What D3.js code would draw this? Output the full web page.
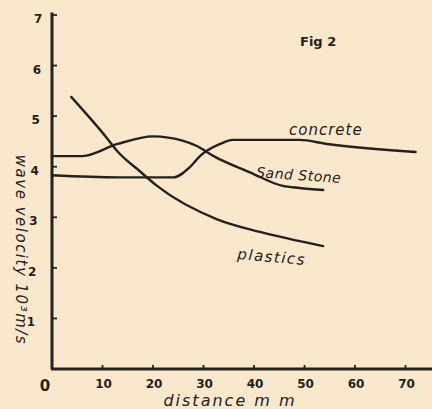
<!DOCTYPE html>
<html lang="en">
<head>
  <meta charset="UTF-8">
  <title>Fig 2</title>
  <script src="https://d3js.org/d3.v7.min.js"></script>
</head>
<style>
  body { margin: 0; background: #f9e8cc; }
  svg { display: block; }
  .hand { font-family: "DejaVu Sans", sans-serif; fill: #24211e; }
</style>
<body>
  <svg id="chart" width="432" height="409"></svg>
  <script>
    // values (distance mm, velocity 10^3 m/s)
    const concreteX = [0, 13, 24, 27.3, 29.3, 33.3, 35.8, 49, 54.5, 72];
    const concreteY = [3.83, 3.79, 3.79, 3.99, 4.21, 4.45, 4.53, 4.53, 4.45, 4.29];
    const sandX = [0, 6, 13, 20, 26, 28.7, 32, 39.2, 45.7, 49, 53.7];
    const sandY = [4.21, 4.21, 4.45, 4.6, 4.51, 4.41, 4.21, 3.89, 3.62, 3.58, 3.54];
    const plasticX = [3.8, 11, 12.9, 17.4, 20.8, 32.7, 41.2, 53.7];
    const plasticY = [5.38, 4.55, 4.31, 3.91, 3.62, 2.96, 2.71, 2.43];
    const xTicks = [10, 20, 30, 40, 50, 60, 70];
    const xTickLabels = ["10", "20", "30", "40", "50", "60", "70"];
    const yTicks = [1, 2, 3, 4, 5, 6, 7];
    const yTickLabels = ["1", "2", "3", "4", "5", "6", "7"];

    const svg = d3.select("#chart");
    const ink = "#24211e";

    const x = d3.scaleLinear().domain([0, 70]).range([52, 405.5]);
    const y = d3.scaleLinear().domain([0, 7]).range([369, 15]);

    // axes
    svg.append("line")
      .attr("x1", x(0)).attr("x2", x(0))
      .attr("y1", y(7.05)).attr("y2", y(0))
      .attr("stroke", ink).attr("stroke-width", 3);
    svg.append("line")
      .attr("x1", x(0) - 1).attr("x2", 432)
      .attr("y1", y(0)).attr("y2", y(0))
      .attr("stroke", ink).attr("stroke-width", 3);

    svg.selectAll(".ytick").data(yTicks).enter().append("line")
      .attr("x1", x(0)).attr("x2", x(0) + 5)
      .attr("y1", d => y(d)).attr("y2", d => y(d))
      .attr("stroke", ink).attr("stroke-width", 1.8);
    svg.selectAll(".xtick").data(xTicks).enter().append("line")
      .attr("x1", d => x(d)).attr("x2", d => x(d))
      .attr("y1", y(0)).attr("y2", y(0) - 4)
      .attr("stroke", ink).attr("stroke-width", 1.8);

    svg.selectAll(".ylab").data(yTicks).enter().append("text")
      .attr("class", "hand")
      .attr("x", (d, i) => 31 + i * 1.2)
      .attr("y", d => y(d) + 8)
      .attr("text-anchor", "middle")
      .attr("font-size", 12).attr("font-weight", "bold")
      .text((d, i) => yTickLabels[i]);

    svg.selectAll(".xlab").data(xTicks).enter().append("text")
      .attr("class", "hand")
      .attr("x", d => x(d) + 1)
      .attr("y", 388)
      .attr("text-anchor", "middle")
      .attr("font-size", 12).attr("font-weight", "bold")
      .text((d, i) => xTickLabels[i]);

    svg.append("text").attr("class", "hand")
      .attr("x", 45).attr("y", 391)
      .attr("text-anchor", "middle")
      .attr("font-size", 15).attr("font-weight", "bold")
      .text("0");

    svg.append("text").attr("class", "hand")
      .attr("x", 230).attr("y", 406)
      .attr("text-anchor", "middle")
      .attr("font-size", 16).attr("font-style", "italic")
      .attr("letter-spacing", 2)
      .text("distance  m m");

    svg.append("text").attr("class", "hand")
      .attr("transform", "translate(16,250) rotate(90)")
      .attr("text-anchor", "middle")
      .attr("font-size", 15).attr("font-style", "italic")
      .attr("letter-spacing", 1.5)
      .text("wave velocity 10³m/s");

    svg.append("text").attr("class", "hand")
      .attr("x", 300).attr("y", 46)
      .attr("font-size", 13).attr("font-weight", "bold")
      .text("Fig 2");

    // curves
    const line = d3.line()
      .x(d => x(d[0])).y(d => y(d[1]))
      .curve(d3.curveMonotoneX);

    const series = [
      { xs: concreteX, ys: concreteY },
      { xs: sandX, ys: sandY },
      { xs: plasticX, ys: plasticY }
    ];
    series.forEach(s => {
      svg.append("path")
        .datum(s.xs.map((v, i) => [v, s.ys[i]]))
        .attr("d", line)
        .attr("fill", "none")
        .attr("stroke", ink)
        .attr("stroke-width", 2.4)
        .attr("stroke-linecap", "round");
    });

    svg.append("text").attr("class", "hand")
      .attr("x", 289).attr("y", 135)
      .attr("font-size", 15).attr("font-style", "italic")
      .attr("letter-spacing", 1)
      .text("concrete");
    svg.append("text").attr("class", "hand")
      .attr("x", 256).attr("y", 177)
      .attr("transform", "rotate(4,256,177)")
      .attr("font-size", 14).attr("font-style", "italic")
      .attr("letter-spacing", 0.5)
      .text("Sand Stone");
    svg.append("text").attr("class", "hand")
      .attr("x", 237).attr("y", 259)
      .attr("transform", "rotate(5,237,259)")
      .attr("font-size", 15).attr("font-style", "italic")
      .attr("letter-spacing", 1.5)
      .text("plastics");
  </script>
</body>
</html>
